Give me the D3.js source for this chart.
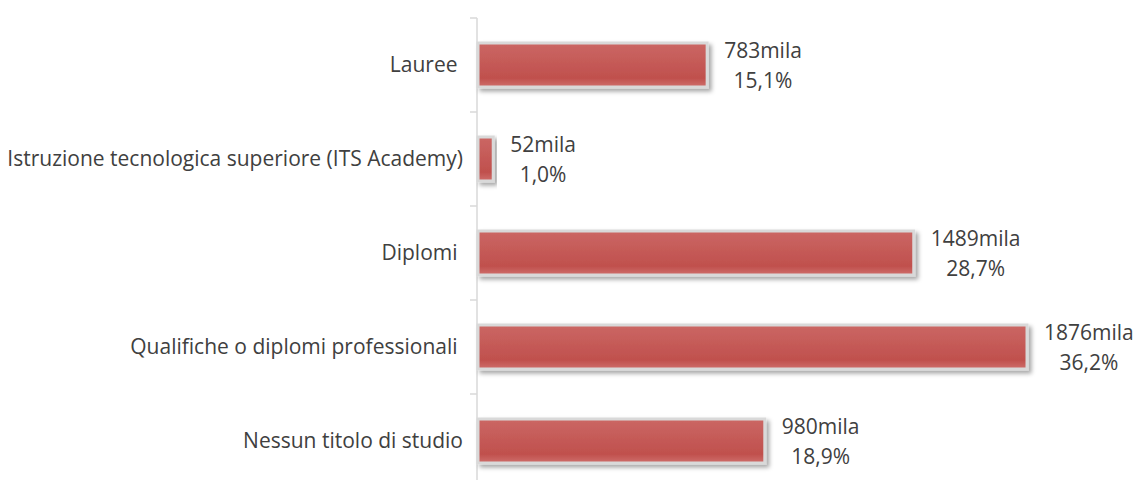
<!DOCTYPE html>
<html lang="it">
<head>
    <meta charset="UTF-8">
    <script src="https://d3js.org/d3.v7.min.js"></script>
    <title>Titoli di studio</title>
    <style>
        body { margin: 0; background: #fff; font-family: "Open Sans", sans-serif; }
        svg text { fill: #404040; white-space: pre; }
    </style>
</head>
<body>
<div id="chart"></div>
<script>
    // dati
    const categories = ['Lauree ', 'Istruzione tecnologica superiore (ITS Academy)', 'Diplomi ', 'Qualifiche o diplomi professionali ', 'Nessun titolo di studio'];
    const values = [783, 52, 1489, 1876, 980];
    const percents = ['15,1%', '1,0%', '28,7%', '36,2%', '18,9%'];

    const width = 1136, height = 480;
    const axisX = 477;
    const fontSize = '21px';

    const svg = d3.select('#chart').append('svg')
        .attr('width', width)
        .attr('height', height);

    // ombra e sfumatura delle barre
    const defs = svg.append('defs');
    const f = defs.append('filter').attr('id', 'shadow')
        .attr('x', '-10%').attr('y', '-30%').attr('width', '130%').attr('height', '180%');
    f.append('feDropShadow')
        .attr('dx', 3).attr('dy', 3).attr('stdDeviation', 2)
        .attr('flood-color', '#000').attr('flood-opacity', 0.35);

    const grad = defs.append('linearGradient').attr('id', 'barFill')
        .attr('x1', 0).attr('y1', 0).attr('x2', 0).attr('y2', 1);
    grad.append('stop').attr('offset', '0%').attr('stop-color', '#cb6764');
    grad.append('stop').attr('offset', '80%').attr('stop-color', '#c0504d');
    grad.append('stop').attr('offset', '100%').attr('stop-color', '#cf6f6c');

    const y = d3.scaleBand()
        .domain(categories)
        .range([18, 488])
        .paddingInner(0.5)
        .paddingOuter(0.25);

    const x = d3.scaleLinear()
        .domain([0, 1876])
        .range([axisX + 1, 1027]);

    // asse verticale con tacche ai confini delle categorie
    const axis = svg.append('g');
    axis.append('line')
        .attr('x1', axisX).attr('x2', axisX)
        .attr('y1', 18).attr('y2', height)
        .attr('stroke', '#d9d9d9').attr('stroke-width', 1.5);
    const step = y.step();
    axis.selectAll('line.tick')
        .data(d3.range(categories.length + 1))
        .enter().append('line')
        .attr('class', 'tick')
        .attr('x1', axisX - 7).attr('x2', axisX)
        .attr('y1', i => 18 + i * step).attr('y2', i => 18 + i * step)
        .attr('stroke', '#d9d9d9').attr('stroke-width', 1.5);

    // etichette categorie
    svg.append('g').selectAll('text')
        .data(categories)
        .enter().append('text')
        .attr('x', 463)
        .attr('y', d => y(d) + y.bandwidth() / 2)
        .attr('dy', '0.35em')
        .attr('text-anchor', 'end')
        .attr('font-size', fontSize)
        .text(d => d);

    // barre
    svg.append('g').selectAll('rect')
        .data(values)
        .enter().append('rect')
        .attr('x', x(0))
        .attr('y', (d, i) => y(categories[i]) + 1.5)
        .attr('width', d => x(d) - x(0))
        .attr('height', y.bandwidth() - 3)
        .attr('fill', 'url(#barFill)')
        .attr('stroke', '#d9d9d9')
        .attr('stroke-width', 3)
        .attr('filter', 'url(#shadow)');

    // etichette valori
    const lbl = svg.append('g').selectAll('g')
        .data(values)
        .enter().append('g');
    lbl.each(function (d, i) {
        const g = d3.select(this);
        const cy = y(categories[i]) + y.bandwidth() / 2;
        const t1 = g.append('text')
            .attr('font-size', fontSize)
            .attr('y', cy - 7)
            .text(d + 'mila');
        const w = t1.node().getComputedTextLength();
        const cx = x(d) + 17 + w / 2;
        t1.attr('x', cx).attr('text-anchor', 'middle');
        g.append('text')
            .attr('font-size', fontSize)
            .attr('x', cx)
            .attr('y', cy + 23)
            .attr('text-anchor', 'middle')
            .text(percents[i]);
    });
</script>
</body>
</html>
